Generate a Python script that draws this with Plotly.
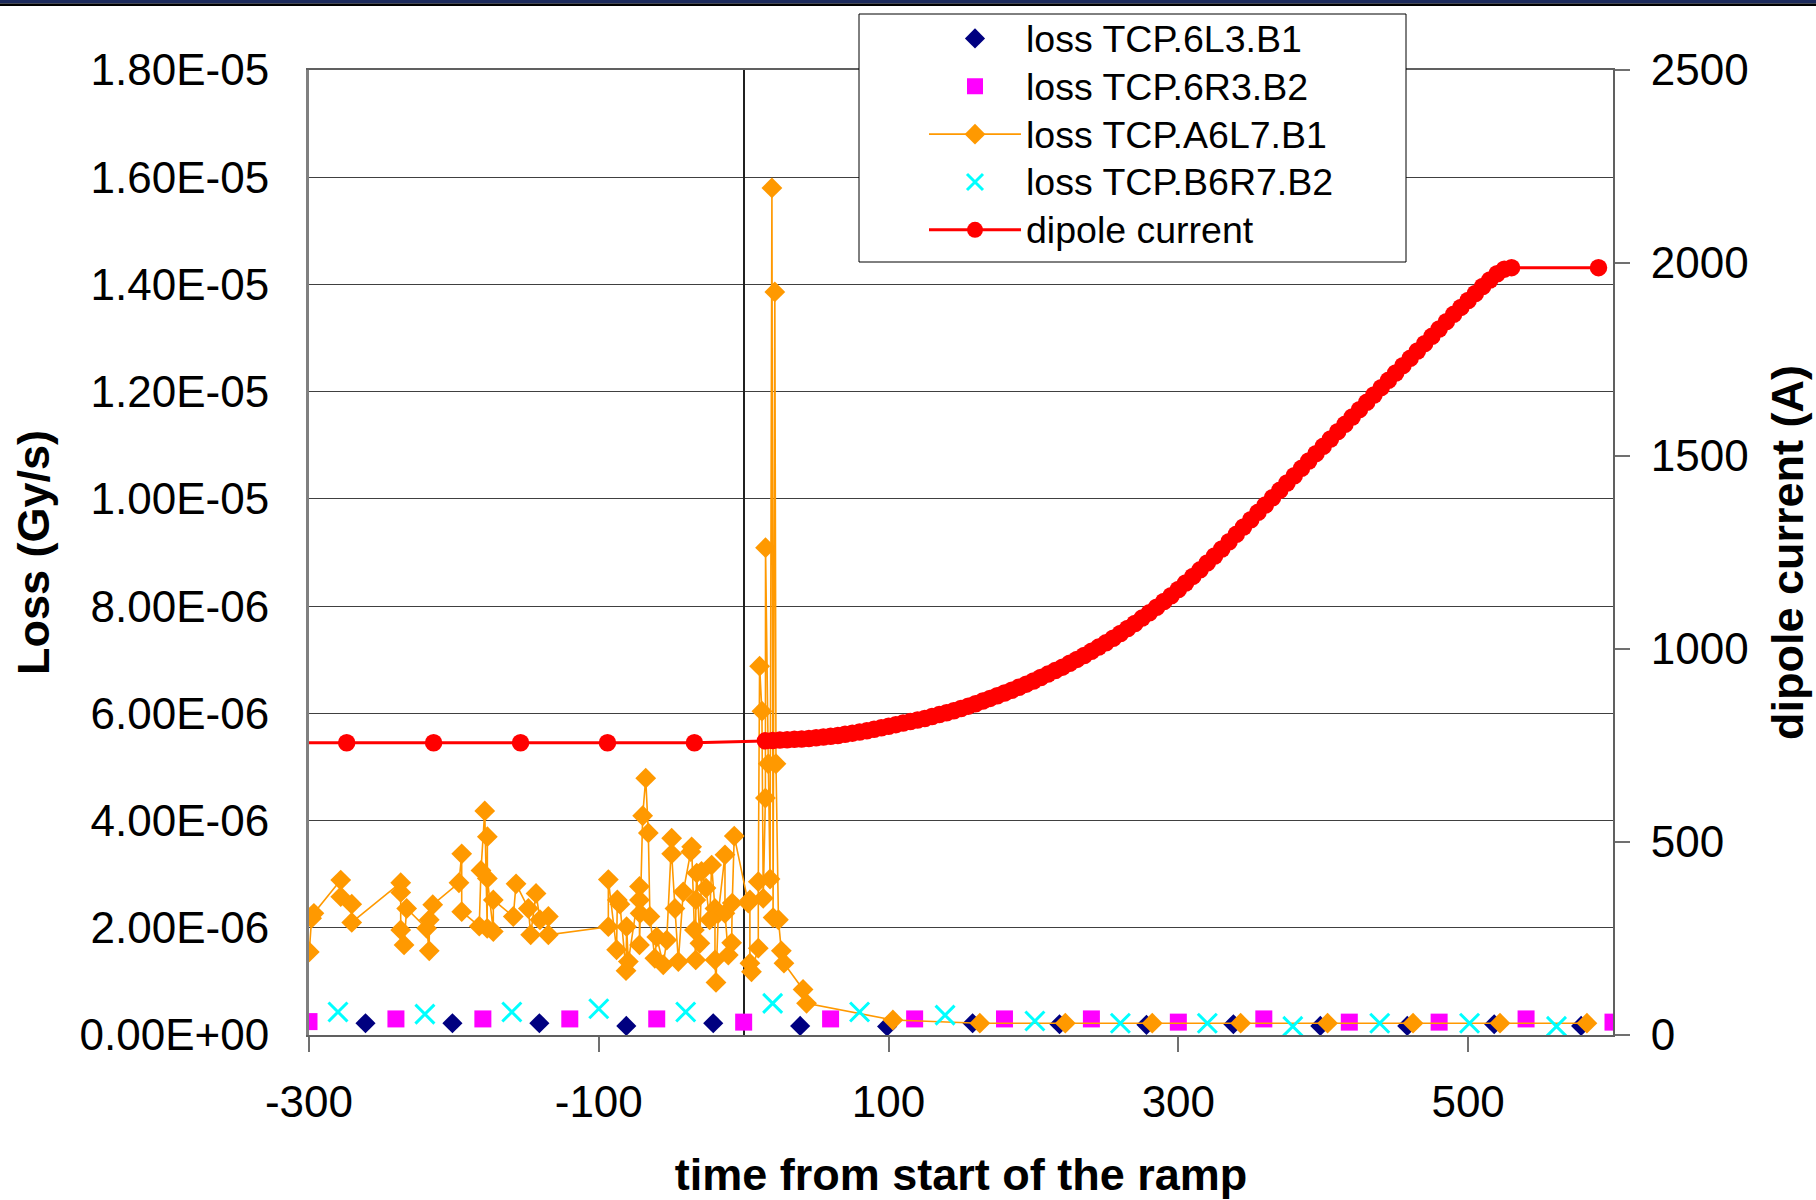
import plotly.graph_objects as go

# ---------------- tick labels ----------------
loss_tick_vals = [0, 2e-6, 4e-6, 6e-6, 8e-6, 1e-5, 1.2e-5, 1.4e-5, 1.6e-5, 1.8e-5]
loss_tick_text = ["0.00E+00", "2.00E-06", "4.00E-06", "6.00E-06", "8.00E-06",
                  "1.00E-05", "1.20E-05", "1.40E-05", "1.60E-05", "1.80E-05"]
time_tick_vals = [-300, -100, 100, 300, 500]
time_tick_text = ["-300", "-100", "100", "300", "500"]
current_tick_vals = [0, 500, 1000, 1500, 2000, 2500]

# ---------------- series ----------------
t_6L3 = [-261, -201, -141, -81, -21, 39, 99, 158, 218, 278, 338, 398, 458, 518, 578]
loss_6L3 = [2.2e-7, 2.2e-7, 2.2e-7, 1.7e-7, 2.2e-7, 1.7e-7, 1.6e-7, 2.2e-7, 2.0e-7,
            1.9e-7, 2.0e-7, 1.7e-7, 1.7e-7, 2.0e-7, 1.7e-7]

t_6R3 = [-300, -240, -180, -120, -60, 0, 60, 118, 180, 240, 300, 359, 418, 480, 540, 600]
loss_6R3 = [2.5e-7, 3.0e-7, 3.0e-7, 3.0e-7, 3.0e-7, 2.4e-7, 3.0e-7, 3.0e-7, 3.0e-7,
            3.0e-7, 2.4e-7, 3.0e-7, 2.4e-7, 2.4e-7, 3.0e-7, 2.4e-7]

t_B6R7 = [-280, -220, -160, -100, -40, 20, 80, 139, 201, 260, 320, 379, 439, 501, 561]
loss_B6R7 = [4.3e-7, 3.9e-7, 4.3e-7, 4.9e-7, 4.3e-7, 5.9e-7, 4.3e-7, 3.7e-7, 2.6e-7,
             2.2e-7, 2.2e-7, 1.6e-7, 2.2e-7, 2.2e-7, 1.6e-7]

t_A6L7 = [-299.8, -298.2, -296.6, -278.1, -278.1, -270.5, -270.5, -236.7, -236.7, -236.7,
          -234.4, -232.6, -218.8, -217.0, -217.0, -214.6, -196.5, -194.6, -194.6, -182.5,
          -181.3, -178.7, -177.0, -176.9, -176.9, -172.8, -172.8, -159.0, -157.1, -148.6,
          -147.0, -143.3, -140.6, -134.8, -134.8, -93.4, -93.4, -87.7, -87.2, -85.4,
          -81.2, -80.8, -79.6, -71.9, -71.9, -71.5, -71.9, -69.7, -67.6, -65.8,
          -64.7, -61.3, -60.0, -55.5, -53.1, -49.7, -49.7, -47.4, -45.1, -41.7,
          -36.5, -35.9, -34.0, -33.1, -33.0, -32.4, -30.2, -29.1, -26.0, -23.5,
          -22.1, -19.8, -19.8, -19.1, -17.5, -12.9, -12.9, -10.6, -8.3, -7.9,
          -6.5, 3.2, 4.3, 4.3, 5.4, 10.1, 10.1, 11.0, 12.6, 13.5,
          15.0, 15.1, 17.0, 18.2, 19.5, 20.3, 21.5, 22.3, 24.0, 26.0,
          27.8, 41.0, 43.4, 103, 163, 222, 282, 343, 403, 462,
          522, 582]
loss_A6L7 = [1.55e-6, 2.18e-6, 2.27e-6, 2.89e-6, 2.58e-6, 2.44e-6, 2.10e-6, 2.84e-6, 2.66e-6, 1.96e-6,
             1.68e-6, 2.36e-6, 1.99e-6, 1.57e-6, 2.15e-6, 2.43e-6, 2.84e-6, 3.38e-6, 2.30e-6, 2.03e-6,
             3.07e-6, 4.18e-6, 1.99e-6, 3.70e-6, 2.92e-6, 1.93e-6, 2.52e-6, 2.21e-6, 2.82e-6, 2.36e-6,
             1.87e-6, 2.64e-6, 2.15e-6, 2.21e-6, 1.87e-6, 2.02e-6, 2.90e-6, 1.59e-6, 2.52e-6, 2.44e-6,
             1.20e-6, 2.02e-6, 1.37e-6, 2.77e-6, 2.52e-6, 2.27e-6, 1.68e-6, 4.09e-6, 4.79e-6, 3.77e-6,
             2.21e-6, 1.43e-6, 1.83e-6, 1.31e-6, 1.77e-6, 3.67e-6, 3.38e-6, 2.36e-6, 1.37e-6, 2.67e-6,
             3.42e-6, 3.51e-6, 1.96e-6, 1.40e-6, 2.52e-6, 3.02e-6, 1.71e-6, 3.05e-6, 2.74e-6, 2.15e-6,
             3.17e-6, 2.36e-6, 1.40e-6, 0.98e-6, 2.27e-6, 3.36e-6, 2.27e-6, 1.49e-6, 1.72e-6, 2.46e-6,
             3.71e-6, 2.46e-6, 2.52e-6, 1.34e-6, 1.18e-6, 1.62e-6, 2.86e-6, 6.88e-6, 6.04e-6, 2.55e-6,
             4.42e-6, 9.09e-6, 5.06e-6, 2.91e-6, 1.58e-5, 2.19e-6, 1.386e-5, 5.06e-6, 2.15e-6, 1.57e-6,
             1.34e-6, 0.85e-6, 0.59e-6, 2.8e-7, 2.2e-7, 2.2e-7, 2.2e-7, 2.2e-7, 2.2e-7, 2.2e-7,
             2.2e-7, 2.2e-7]

t_dipole = [-334, -274, -214, -154, -94, -34,
            15, 20, 25, 30, 35, 40, 45, 50, 55, 60, 65, 70, 75, 80, 85, 90, 95, 100,
            105, 110, 115, 120, 125, 130, 135, 140, 145, 150, 155, 160, 165, 170, 175, 180,
            185, 190, 195, 200, 205, 210, 215, 220, 225, 230, 235, 240, 245, 250, 255, 260,
            265, 270, 275, 280, 285, 290, 295, 300, 305, 310, 315, 320, 325, 330, 335, 340,
            345, 350, 355, 360, 365, 370, 375, 380, 385, 390, 395, 400, 405, 410, 415, 420,
            425, 430, 435, 440, 445, 450, 455, 460, 465, 470, 475, 480, 485, 490, 495, 500,
            505, 510, 515, 520, 525, 530, 590]
current_dipole = [757, 757, 757, 757, 757, 757,
                  762, 763, 764, 765, 766, 767, 768, 770, 772, 774, 776, 779, 782, 785, 788, 792, 796, 800,
                  804, 808, 812, 816, 820, 825, 830, 835, 840, 846, 852, 858, 865, 872, 879, 886,
                  893, 901, 909, 917, 926, 935, 944, 953, 963, 973, 983, 994, 1005, 1016, 1028, 1040,
                  1053, 1066, 1080, 1094, 1108, 1123, 1138, 1154, 1171, 1188, 1205, 1223, 1241, 1259, 1278, 1297,
                  1316, 1335, 1354, 1373, 1392, 1411, 1430, 1449, 1468, 1487, 1506, 1525, 1544, 1563, 1582, 1601,
                  1620, 1639, 1658, 1677, 1696, 1715, 1734, 1753, 1772, 1791, 1810, 1829, 1848, 1867, 1885, 1903,
                  1921, 1939, 1956, 1972, 1984, 1988, 1988]

series_names = ["loss TCP.6L3.B1", "loss TCP.6R3.B2", "loss TCP.A6L7.B1",
                "loss TCP.B6R7.B2", "dipole current"]

FONT = "Liberation Sans, Arial, sans-serif"


def leg(name):
    return "<span style='font-size:37.5px'>" + name + "</span>"


fig = go.Figure()
fig.add_trace(go.Scatter(x=t_6L3, y=loss_6L3, mode="markers", name=leg(series_names[0]),
                         marker=dict(symbol="diamond", size=15.5, color="#000080")))
fig.add_trace(go.Scatter(x=t_6R3, y=loss_6R3, mode="markers", name=leg(series_names[1]),
                         marker=dict(symbol="square", size=17, color="#FF00FF")))
fig.add_trace(go.Scatter(x=t_A6L7, y=loss_A6L7, mode="lines+markers", name=leg(series_names[2]),
                         line=dict(color="#FF9900", width=1.6),
                         marker=dict(symbol="diamond", size=16, color="#FF9900")))
fig.add_trace(go.Scatter(x=t_B6R7, y=loss_B6R7, mode="markers", name=leg(series_names[3]),
                         marker=dict(symbol="x-thin", size=19, color="#00FFFF",
                                     line=dict(color="#00FFFF", width=3))))
fig.add_trace(go.Scatter(x=t_dipole, y=current_dipole, mode="lines+markers", name=leg(series_names[4]),
                         yaxis="y2", line=dict(color="#FF0000", width=3),
                         marker=dict(symbol="circle", size=17.5, color="#FF0000")))

L, R, T, B = 309, 1613, 70, 1035
W, H = 1816, 1200
pw, ph = R - L, B - T


def px(x):
    return (x - L) / pw


def py(y):
    return (B - y) / ph


fig.update_layout(
    width=W, height=H,
    margin=dict(l=L, r=W - R, t=T, b=H - B, pad=0, autoexpand=False),
    paper_bgcolor="white", plot_bgcolor="white",
    font=dict(family=FONT, size=44, color="black"),
    showlegend=True,
    legend=dict(x=px(924), y=py(9.5), xanchor="left", yanchor="top",
                bgcolor="rgba(0,0,0,0)", borderwidth=0,
                font=dict(family=FONT, size=34.5, color="black"),
                itemwidth=92, tracegroupgap=0),
    xaxis=dict(range=[-300, 600], tickvals=time_tick_vals, ticktext=time_tick_text,
               ticks="outside", ticklen=15, tickwidth=2, tickcolor="#707070",
               showline=True, linecolor="#606060", linewidth=2, mirror=True,
               showgrid=False, zeroline=True, zerolinecolor="#202020", zerolinewidth=1.5,
               ticklabelstandoff=12, automargin=False,
               tickfont=dict(family=FONT, size=44, color="black"),
               title=dict(text="<b>time from start of the ramp</b>", standoff=34,
                          font=dict(family=FONT, size=45, color="black"))),
    yaxis=dict(range=[0, 1.8e-5], tickvals=loss_tick_vals, ticktext=loss_tick_text,
               ticks="", showline=True, linecolor="#808080", linewidth=3,
               showgrid=True, gridcolor="#404040", gridwidth=1, zeroline=False,
               ticklabelstandoff=28, automargin=False,
               tickfont=dict(family=FONT, size=44, color="black"),
               title=dict(text="<b>Loss (Gy/s)</b>", standoff=16,
                          font=dict(family=FONT, size=45, color="black"))),
    yaxis2=dict(range=[0, 2500], tickvals=current_tick_vals, overlaying="y", side="right",
                ticks="outside", ticklen=15, tickwidth=2, tickcolor="#707070",
                showline=True, linecolor="#606060", linewidth=2,
                showgrid=False, zeroline=False, ticklabelstandoff=12, automargin=False,
                tickfont=dict(family=FONT, size=44, color="black"),
                title=dict(text="<b>dipole current (A)</b>", standoff=24,
                           font=dict(family=FONT, size=45, color="black"))),
    yaxis3=dict(range=[0, 2500], tickvals=current_tick_vals, overlaying="y", side="right",
                anchor="x", ticks="inside", ticklen=14, tickwidth=2, tickcolor="#707070",
                showticklabels=False, showline=False, showgrid=False, zeroline=False,
                automargin=False),
    shapes=[
        dict(type="rect", xref="paper", yref="paper", x0=px(0), x1=px(W), y0=py(3.5), y1=py(0),
             fillcolor="#1c2a5c", line=dict(width=0), layer="above"),
        dict(type="rect", xref="paper", yref="paper", x0=px(0), x1=px(W), y0=py(6), y1=py(3.5),
             fillcolor="#000000", line=dict(width=0), layer="above"),
        dict(type="rect", xref="paper", yref="paper", x0=px(859), x1=px(1406), y0=py(262), y1=py(14),
             fillcolor="white", line=dict(color="black", width=1), layer="above"),
    ],
)

fig.write_html("out.html", config={"displayModeBar": False},
               post_script="document.body.style.margin='0';document.body.style.overflow='hidden';")
